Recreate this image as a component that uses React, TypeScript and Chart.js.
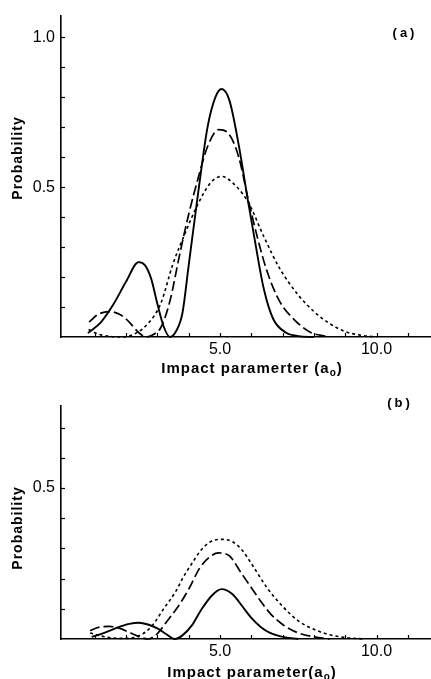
import { useEffect, useRef } from "react";
import { Chart, registerables } from "chart.js";

Chart.register(...registerables);

// ---- shared axis layout ----
const xMin = -0.08;
const xMax = 11.74;
const xTickValues = [1, 2, 3, 4, 5, 6, 7, 8, 9, 10, 11];
const xTickLabels = ["", "", "", "", "5.0", "", "", "", "", "10.0", ""];

// ---- panel (a) ----
const aYTickValues = [0.1, 0.2, 0.3, 0.4, 0.5, 0.6, 0.7, 0.8, 0.9, 1.0];
const aYTickLabels = ["", "", "", "", "0.5", "", "", "", "", "1.0"];

const aSolidX = [0.78, 1.2, 1.6, 2.0, 2.4, 2.6, 2.8, 3.0, 3.2, 3.4, 3.6, 3.8, 4.0, 4.3, 4.6, 4.85, 5.05, 5.3, 5.6, 5.9, 6.1, 6.4, 6.7, 7.1, 7.5, 8.0];
const aSolidY = [0.013, 0.05, 0.11, 0.185, 0.25, 0.24, 0.195, 0.11, 0.035, 0.0, 0.02, 0.08, 0.24, 0.48, 0.70, 0.80, 0.828, 0.79, 0.64, 0.45, 0.33, 0.16, 0.06, 0.015, 0.003, 0.0];

const aDashedX = [0.82, 1.1, 1.45, 1.8, 2.1, 2.4, 2.65, 2.9, 3.1, 3.4, 3.7, 4.0, 4.3, 4.6, 4.95, 5.3, 5.6, 5.9, 6.2, 6.5, 6.9, 7.4, 7.9, 8.4];
const aDashedY = [0.05, 0.075, 0.085, 0.075, 0.05, 0.015, 0.0, 0.01, 0.03, 0.12, 0.27, 0.41, 0.53, 0.635, 0.692, 0.675, 0.6, 0.46, 0.33, 0.22, 0.12, 0.055, 0.015, 0.002];

const aDottedX = [0.8, 1.1, 1.5, 1.9, 2.3, 2.7, 3.1, 3.5, 3.9, 4.3, 4.7, 5.05, 5.4, 5.9, 6.4, 6.9, 7.5, 8.0, 8.5, 9.0, 9.5, 10.0];
const aDottedY = [0.025, 0.01, 0.002, 0.0, 0.012, 0.045, 0.11, 0.245, 0.35, 0.445, 0.515, 0.536, 0.515, 0.45, 0.335, 0.23, 0.14, 0.085, 0.045, 0.018, 0.006, 0.0];

// ---- panel (b) ----
const bYTickValues = [0.1, 0.2, 0.3, 0.4, 0.5, 0.6, 0.7];
const bYTickLabels = ["", "", "", "", "0.5", "", ""];

const bSolidX = [0.9, 1.3, 1.7, 2.1, 2.4, 2.7, 3.0, 3.3, 3.55, 3.8, 4.1, 4.4, 4.75, 5.05, 5.4, 5.7, 6.0, 6.3, 6.6, 7.0, 7.5];
const bSolidY = [0.007, 0.02, 0.037, 0.05, 0.054, 0.048, 0.035, 0.015, 0.0, 0.012, 0.045, 0.097, 0.145, 0.165, 0.148, 0.11, 0.07, 0.04, 0.02, 0.007, 0.0];

const bDashedX = [0.85, 1.1, 1.45, 1.8, 2.1, 2.4, 2.7, 3.0, 3.3, 3.65, 4.0, 4.35, 4.65, 4.95, 5.3, 5.7, 6.0, 6.3, 6.6, 7.0, 7.5, 8.0, 8.5];
const bDashedY = [0.028, 0.038, 0.042, 0.035, 0.022, 0.008, 0.0, 0.018, 0.058, 0.106, 0.165, 0.235, 0.27, 0.285, 0.275, 0.215, 0.17, 0.125, 0.085, 0.048, 0.02, 0.007, 0.0];

const bDottedX = [0.85, 1.2, 1.6, 2.0, 2.4, 2.8, 3.2, 3.6, 3.8, 4.1, 4.4, 4.7, 5.05, 5.4, 5.7, 6.0, 6.5, 7.0, 7.5, 8.0, 8.5, 9.0, 9.6];
const bDottedY = [0.02, 0.01, 0.003, 0.002, 0.01, 0.04, 0.1, 0.16, 0.2, 0.25, 0.295, 0.322, 0.33, 0.322, 0.295, 0.25, 0.17, 0.108, 0.06, 0.032, 0.014, 0.005, 0.0];

const FONT = "'Liberation Sans', Arial, sans-serif";

type PanelProps = {
  height: number;
  plotTop: number;
  plotBottom: number;
  yMax: number;
  yTicks: number[];
  yLabels: string[];
  solid: [number[], number[]];
  dashed: [number[], number[]];
  dotted: [number[], number[]];
  xTitle: string;
  xTitleY: number;
  yTitleY: number;
  tag: string;
  tagX: number;
  tagY: number;
};

// Inward tick marks, rotated/sub-scripted axis titles and the panel tag.
const decorations = {
  id: "decorations",
  afterDraw(chart: any, _args: any, opts: any) {
    const { ctx, chartArea, scales } = chart;
    const xs = scales.x;
    const ys = scales.y;
    ctx.save();
    ctx.strokeStyle = "#000";
    ctx.lineWidth = 1.2;
    xs.ticks.forEach((t: any) => {
      const px = Math.round(xs.getPixelForValue(t.value)) + 0.5;
      ctx.beginPath();
      ctx.moveTo(px, chartArea.bottom);
      ctx.lineTo(px, chartArea.bottom - 4);
      ctx.stroke();
    });
    ys.ticks.forEach((t: any) => {
      const py = Math.round(ys.getPixelForValue(t.value)) + 0.5;
      ctx.beginPath();
      ctx.moveTo(chartArea.left, py);
      ctx.lineTo(chartArea.left + 4, py);
      ctx.stroke();
    });

    ctx.fillStyle = "#000";
    const c: any = ctx;

    // y title
    ctx.save();
    c.letterSpacing = "1px";
    ctx.font = `bold 14px ${FONT}`;
    ctx.translate(18, opts.yTitleY);
    ctx.rotate(-Math.PI / 2);
    ctx.textAlign = "center";
    ctx.textBaseline = "middle";
    ctx.fillText("Probability", 0, 0);
    ctx.restore();

    // x title: "... (a" + subscript "o" + ")"
    ctx.save();
    c.letterSpacing = "1px";
    ctx.textAlign = "left";
    ctx.textBaseline = "alphabetic";
    const big = `bold 15px ${FONT}`;
    const small = `bold 10px ${FONT}`;
    ctx.font = big;
    const w1 = ctx.measureText(opts.xTitle).width;
    const w3 = ctx.measureText(")").width;
    ctx.font = small;
    const w2 = ctx.measureText("o").width;
    let sx = opts.xTitleCx - (w1 + w2 + w3) / 2;
    ctx.font = big;
    ctx.fillText(opts.xTitle, sx, opts.xTitleY);
    sx += w1;
    ctx.font = small;
    ctx.fillText("o", sx, opts.xTitleY + 3);
    sx += w2;
    ctx.font = big;
    ctx.fillText(")", sx, opts.xTitleY);
    ctx.restore();

    // panel tag
    ctx.save();
    c.letterSpacing = "3px";
    ctx.font = `bold 13px ${FONT}`;
    ctx.textAlign = "center";
    ctx.textBaseline = "middle";
    ctx.fillText(opts.tag, opts.tagX, opts.tagY);
    ctx.restore();

    ctx.restore();
  },
};

function toPoints(xy: [number[], number[]]) {
  return xy[0].map((x, i) => ({ x, y: xy[1][i] }));
}

function Panel(p: PanelProps) {
  const ref = useRef<HTMLCanvasElement | null>(null);

  useEffect(() => {
    if (!ref.current) return;
    const line = (xy: [number[], number[]], dash: number[], width: number) => ({
      data: toPoints(xy),
      borderColor: "#000",
      borderWidth: width,
      borderDash: dash,
      pointRadius: 0,
      fill: false,
      cubicInterpolationMode: "monotone" as const,
      clip: 6,
    });
    const chart = new Chart(ref.current, {
      type: "line",
      data: {
        datasets: [
          line(p.solid, [], 1.9),
          line(p.dashed, [10, 4], 1.7),
          line(p.dotted, [3, 3], 1.6),
        ],
      },
      options: {
        responsive: false,
        maintainAspectRatio: false,
        animation: false,
        layout: { padding: { top: p.plotTop, left: 0, right: 0, bottom: 0 } },
        plugins: {
          legend: { display: false },
          tooltip: { enabled: false },
          decorations: {
            xTitle: p.xTitle,
            xTitleCx: 252,
            xTitleY: p.xTitleY,
            yTitleY: p.yTitleY,
            tag: p.tag,
            tagX: p.tagX,
            tagY: p.tagY,
          },
        } as any,
        scales: {
          x: {
            type: "linear",
            min: xMin,
            max: xMax,
            grid: { display: false, drawTicks: false },
            border: { display: true, color: "#000", width: 1.6 },
            afterBuildTicks: (s: any) => {
              s.ticks = xTickValues.map((v) => ({ value: v }));
            },
            afterFit: (s: any) => {
              s.height = p.height - p.plotBottom;
            },
            ticks: {
              autoSkip: false,
              maxRotation: 0,
              padding: 3,
              color: "#000",
              font: { family: FONT, size: 16 },
              callback: (_v: any, i: number) => xTickLabels[i],
            },
          },
          y: {
            type: "linear",
            min: 0,
            max: p.yMax,
            grid: { display: false, drawTicks: false },
            border: { display: true, color: "#000", width: 1.6 },
            afterBuildTicks: (s: any) => {
              s.ticks = p.yTicks.map((v) => ({ value: v }));
            },
            afterFit: (s: any) => {
              s.width = 61;
            },
            ticks: {
              autoSkip: false,
              padding: 6,
              color: "#000",
              font: { family: FONT, size: 16 },
              callback: (_v: any, i: number) => p.yLabels[i],
            },
          },
        },
      },
      plugins: [decorations],
    });
    return () => chart.destroy();
  }, []);

  return (
    <canvas
      ref={ref}
      width={431}
      height={p.height}
      style={{ display: "block", width: 431, height: p.height }}
    />
  );
}

export default function App() {
  return (
    <div style={{ position: "absolute", left: 0, top: 0, width: 431, height: 679, background: "#fff" }}>
      <Panel
        height={385}
        plotTop={13}
        plotBottom={337}
        yMax={1.073}
        yTicks={aYTickValues}
        yLabels={aYTickLabels}
        solid={[aSolidX, aSolidY]}
        dashed={[aDashedX, aDashedY]}
        dotted={[aDottedX, aDottedY]}
        xTitle="Impact paramerter (a"
        xTitleY={373}
        yTitleY={158}
        tag="(a)"
        tagX={405}
        tagY={33}
      />
      <Panel
        height={294}
        plotTop={21}
        plotBottom={254}
        yMax={0.7715}
        yTicks={bYTickValues}
        yLabels={bYTickLabels}
        solid={[bSolidX, bSolidY]}
        dashed={[bDashedX, bDashedY]}
        dotted={[bDottedX, bDottedY]}
        xTitle="Impact parameter(a"
        xTitleY={292}
        yTitleY={143}
        tag="(b)"
        tagX={400}
        tagY={18}
      />
    </div>
  );
}
